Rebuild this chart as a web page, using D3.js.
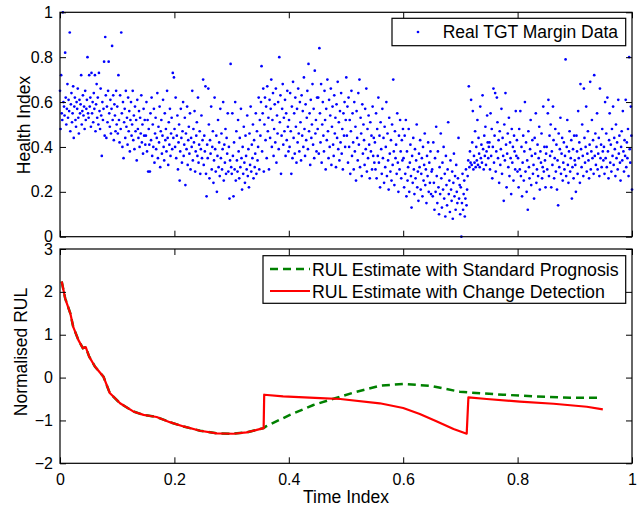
<!DOCTYPE html>
<html>
<head>
<meta charset="utf-8">
<script src="https://d3js.org/d3.v7.min.js"></script>
<style>
  body { margin: 0; background: #fff; }
  svg { display: block; font-family: "Liberation Sans", Arial, Helvetica, sans-serif; }
</style>
</head>
<body>
<svg id="chart" width="640" height="506"></svg>
<script>
// Health index samples (evenly spaced over time index 0..1)
const healthIndex = [
  0.65,0.48,0.72,0.55,0.52,1.00,0.60,0.58,0.54,0.82,0.62,0.50,0.57,0.68,0.53,0.61,0.56,0.91,0.47,0.59,0.64,0.51,0.55,0.67,0.44,0.58,0.62,0.52,0.49,0.60,0.57,0.66,0.53,0.46,0.61,0.55,0.59,0.72,0.50,0.56,0.63,0.54,0.58,0.48,0.65,0.52,0.57,0.61,0.80,0.55,
  0.53,0.72,0.58,0.62,0.49,0.73,0.55,0.60,0.51,0.64,0.57,0.72,0.47,0.59,0.68,0.53,0.62,0.50,0.73,0.56,0.48,0.66,0.54,0.36,0.60,0.52,0.57,0.78,0.45,0.89,0.63,0.44,0.58,0.51,0.65,0.78,0.55,0.49,0.61,0.46,0.57,0.85,0.52,0.63,0.43,0.59,0.54,0.47,0.65,0.50,
  0.58,0.46,0.72,0.52,0.42,0.63,0.48,0.91,0.55,0.40,0.60,0.35,0.51,0.57,0.44,0.65,0.49,0.53,0.41,0.62,0.47,0.56,0.38,0.52,0.60,0.45,0.50,0.65,0.43,0.54,0.39,0.58,0.47,0.52,0.34,0.61,0.48,0.44,0.56,0.40,0.53,0.46,0.63,0.42,0.50,0.37,0.57,0.45,0.52,0.41,
  0.45,0.60,0.38,0.52,0.29,0.48,0.41,0.29,0.55,0.43,0.62,0.36,0.50,0.40,0.57,0.33,0.46,0.53,0.39,0.44,0.64,0.35,0.49,0.42,0.58,0.31,0.47,0.52,0.37,0.45,0.61,0.40,0.34,0.55,0.43,0.48,0.38,0.65,0.44,0.32,0.51,0.41,0.57,0.36,0.46,0.53,0.39,0.73,0.44,0.71,
  0.48,0.40,0.62,0.35,0.45,0.54,0.30,0.42,0.50,0.25,0.38,0.57,0.44,0.33,0.47,0.60,0.36,0.41,0.53,0.23,0.46,0.39,0.58,0.32,0.43,0.49,0.37,0.55,0.30,0.44,0.40,0.65,0.34,0.48,0.42,0.56,0.29,0.38,0.45,0.51,0.36,0.62,0.33,0.41,0.47,0.28,0.39,0.54,0.35,0.43,
  0.70,0.32,0.45,0.38,0.67,0.28,0.18,0.41,0.35,0.66,0.50,0.26,0.43,0.37,0.58,0.30,0.40,0.47,0.24,0.34,0.62,0.39,0.29,0.45,0.20,0.36,0.52,0.31,0.42,0.27,0.57,0.35,0.46,0.30,0.39,0.60,0.25,0.41,0.33,0.48,0.28,0.44,0.37,0.55,0.29,0.40,0.17,0.34,0.77,0.31,
  0.28,0.55,0.36,0.18,0.42,0.30,0.60,0.25,0.47,0.34,0.29,0.52,0.38,0.26,0.44,0.31,0.57,0.35,0.21,0.40,0.28,0.49,0.33,0.24,0.45,0.36,0.30,0.54,0.27,0.39,0.22,0.46,0.32,0.58,0.29,0.41,0.35,0.50,0.26,0.43,0.31,0.37,0.55,0.28,0.47,0.34,0.40,0.62,0.30,0.52,
  0.45,0.60,0.76,0.38,0.55,0.66,0.29,0.50,0.62,0.43,0.58,0.35,0.67,0.47,0.53,0.30,0.61,0.44,0.57,0.70,0.40,0.52,0.64,0.36,0.48,0.59,0.42,0.66,0.33,0.54,0.46,0.60,0.39,0.80,0.51,0.63,0.28,0.45,0.57,0.68,0.41,0.53,0.47,0.61,0.36,0.55,0.43,0.65,0.49,0.38,
  0.52,0.40,0.64,0.47,0.28,0.58,0.35,0.69,0.44,0.55,0.37,0.62,0.49,0.33,0.57,0.42,0.66,0.46,0.38,0.60,0.51,0.34,0.63,0.45,0.56,0.40,0.71,0.48,0.36,0.59,0.43,0.53,0.65,0.39,0.77,0.47,0.55,0.32,0.61,0.44,0.50,0.68,0.41,0.57,0.35,0.74,0.46,0.52,0.38,0.62,
  0.48,0.62,0.37,0.84,0.55,0.42,0.68,0.33,0.50,0.60,0.45,0.38,0.65,0.52,0.30,0.57,0.43,0.70,0.47,0.35,0.61,0.40,0.54,0.66,0.32,0.49,0.58,0.41,0.36,0.63,0.46,0.53,0.31,0.59,0.44,0.69,0.39,0.51,0.34,0.56,0.42,0.64,0.37,0.48,0.30,0.55,0.45,0.60,0.40,0.52,
  0.71,0.45,0.58,0.33,0.62,0.40,0.52,0.28,0.47,0.65,0.36,0.55,0.42,0.30,0.60,0.38,0.49,0.25,0.56,0.44,0.34,0.64,0.41,0.70,0.31,0.53,0.46,0.27,0.59,0.37,0.50,0.43,0.32,0.57,0.39,0.66,0.29,0.48,0.35,0.54,0.41,0.26,0.51,0.38,0.45,0.30,0.58,0.36,0.44,0.33,
  0.42,0.30,0.55,0.26,0.48,0.36,0.62,0.33,0.45,0.22,0.51,0.39,0.28,0.57,0.35,0.44,0.24,0.49,0.31,0.40,0.60,0.27,0.46,0.34,0.21,0.53,0.37,0.29,0.43,0.25,0.50,0.32,0.70,0.38,0.23,0.47,0.35,0.41,0.28,0.55,0.33,0.20,0.45,0.30,0.52,0.38,0.26,0.43,0.34,0.48,
  0.35,0.22,0.45,0.28,0.52,0.18,0.38,0.25,0.31,0.48,0.20,0.33,0.41,0.27,0.13,0.36,0.24,0.44,0.30,0.19,0.39,0.26,0.34,0.50,0.22,0.29,0.16,0.37,0.31,0.43,0.21,0.28,0.35,0.18,0.40,0.25,0.32,0.46,0.23,0.30,0.15,0.36,0.27,0.42,0.20,0.33,0.24,0.38,0.19,0.29,
  0.30,0.18,0.42,0.24,0.12,0.35,0.20,0.49,0.27,0.15,0.38,0.22,0.10,0.31,0.19,0.46,0.26,0.13,0.33,0.21,0.40,0.17,0.28,0.09,0.36,0.23,0.14,0.30,0.51,0.19,0.25,0.11,0.34,0.21,0.16,0.29,0.08,0.24,0.37,0.18,0.27,0.12,0.32,0.20,0.15,0.26,0.44,0.17,0.23,0.10,
  0.22,0.00,0.15,0.28,0.12,0.19,0.25,0.09,0.17,0.30,0.14,0.21,0.27,0.34,0.67,0.31,0.38,0.33,0.61,0.32,0.42,0.56,0.30,0.36,0.33,0.47,0.31,0.40,0.34,0.52,0.32,0.44,0.37,0.31,0.58,0.35,0.41,0.33,0.63,0.39,0.30,0.45,0.36,0.49,0.32,0.38,0.54,0.42,0.35,0.40,
  0.42,0.30,0.55,0.36,0.48,0.26,0.40,0.66,0.33,0.45,0.64,0.29,0.38,0.62,0.51,0.35,0.43,0.24,0.47,0.32,0.39,0.57,0.28,0.44,0.36,0.16,0.50,0.34,0.64,0.41,0.22,0.37,0.46,0.31,0.53,0.27,0.42,0.35,0.19,0.48,0.33,0.40,0.25,0.45,0.38,0.30,0.56,0.36,0.43,0.29,
  0.35,0.22,0.48,0.30,0.56,0.27,0.40,0.18,0.33,0.45,0.25,0.38,0.60,0.29,0.42,0.20,0.34,0.12,0.47,0.31,0.26,0.39,0.52,0.23,0.36,0.43,0.28,0.32,0.17,0.44,0.37,0.55,0.24,0.30,0.41,0.27,0.35,0.49,0.21,0.38,0.33,0.46,0.26,0.31,0.58,0.29,0.40,0.34,0.22,0.37,
  0.40,0.30,0.55,0.61,0.27,0.45,0.36,0.50,0.22,0.38,0.32,0.58,0.43,0.26,0.35,0.48,0.29,0.41,0.21,0.34,0.14,0.46,0.31,0.39,0.53,0.28,0.37,0.44,0.25,0.33,0.42,0.30,0.36,0.79,0.27,0.40,0.52,0.32,0.24,0.38,0.47,0.29,0.35,0.43,0.17,0.31,0.39,0.26,0.45,0.34,
  0.32,0.20,0.45,0.38,0.28,0.56,0.35,0.42,0.24,0.68,0.39,0.31,0.50,0.36,0.27,0.66,0.44,0.33,0.40,0.58,0.29,0.37,0.47,0.34,0.26,0.41,0.69,0.30,0.38,0.52,0.35,0.43,0.28,0.72,0.36,0.46,0.32,0.40,0.55,0.30,0.37,0.44,0.27,0.66,0.35,0.41,0.31,0.48,0.38,0.34,
  0.40,0.28,0.60,0.35,0.46,0.31,0.62,0.38,0.26,0.43,0.55,0.33,0.41,0.29,0.48,0.36,0.58,0.32,0.44,0.39,0.27,0.50,0.35,0.42,0.30,0.61,0.37,0.45,0.33,0.25,0.40,0.47,0.34,0.56,0.38,0.29,0.43,0.36,0.61,0.31,0.42,0.35,0.48,0.27,0.80,0.39,0.33,0.58,0.45,0.21
];

// RUL estimate with change detection (red)
const changeTime = [0.003,0.009,0.018,0.023,0.032,0.040,0.045,0.051,0.061,0.076,0.087,0.105,0.128,0.146,0.169,0.192,0.216,0.245,0.274,0.303,0.326,0.344,0.356,
  0.357,0.390,0.455,0.490,0.559,0.600,0.629,0.658,0.688,0.711,0.714,0.746,0.804,0.863,0.921,0.949];
const changeRul = [2.24,1.85,1.50,1.19,0.88,0.685,0.71,0.49,0.26,0.02,-0.36,-0.60,-0.79,-0.87,-0.92,-1.04,-1.14,-1.24,-1.30,-1.31,-1.28,-1.22,-1.18,
  -0.40,-0.44,-0.48,-0.50,-0.60,-0.71,-0.85,-1.02,-1.20,-1.31,-0.46,-0.50,-0.56,-0.61,-0.68,-0.74];

// RUL estimate with standard prognosis (green dashed)
const standardTime = [0.003,0.009,0.018,0.023,0.032,0.040,0.045,0.051,0.061,0.076,0.087,0.105,0.128,0.146,0.169,0.192,0.216,0.245,0.274,0.303,0.326,0.344,0.356,
  0.360,0.402,0.443,0.472,0.513,0.559,0.600,0.647,0.699,0.717,0.775,0.833,0.892,0.945];
const standardRul = [2.24,1.85,1.50,1.19,0.88,0.685,0.71,0.49,0.26,0.02,-0.36,-0.60,-0.79,-0.87,-0.92,-1.04,-1.14,-1.24,-1.30,-1.31,-1.28,-1.22,-1.18,
  -1.14,-0.87,-0.64,-0.52,-0.35,-0.19,-0.15,-0.19,-0.33,-0.35,-0.40,-0.44,-0.47,-0.47];

const xTicks = [0, 0.2, 0.4, 0.6, 0.8, 1];
const topTicks = [0, 0.2, 0.4, 0.6, 0.8, 1];
const bottomTicks = [-2, -1, 0, 1, 2, 3];

const svg = d3.select("#chart");

const x = d3.scaleLinear().domain([0, 1]).range([60, 632]);
const yTop = d3.scaleLinear().domain([0, 1]).range([236.7, 12.3]);
const yBot = d3.scaleLinear().domain([-2, 3]).range([463.3, 249]);

function drawFrame(y, yTickValues, showXLabels) {
    const [y0, y1] = y.range();
    const g = svg.append("g");

    // ticks inside on all four sides, matlab style
    const left = d3.axisLeft(y).tickValues(yTickValues).tickSizeInner(-6).tickSizeOuter(0).tickPadding(7)
        .tickFormat(d3.format("~g"));
    const right = d3.axisRight(y).tickValues(yTickValues).tickSizeInner(-6).tickSizeOuter(0).tickFormat("");
    const bottom = d3.axisBottom(x).tickValues(xTicks).tickSizeInner(-6).tickSizeOuter(0).tickPadding(10)
        .tickFormat(showXLabels ? d3.format("~g") : "");
    const top = d3.axisTop(x).tickValues(xTicks).tickSizeInner(-6).tickSizeOuter(0).tickFormat("");

    g.append("g").attr("transform", `translate(${x(0)},0)`).call(left);
    g.append("g").attr("transform", `translate(${x(1)},0)`).call(right);
    g.append("g").attr("transform", `translate(0,${y0})`).call(bottom);
    g.append("g").attr("transform", `translate(0,${y1})`).call(top);

    g.selectAll(".domain").remove();
    g.selectAll(".tick line").attr("stroke", "#000");
    g.selectAll(".tick text")
        .attr("fill", "#000")
        .style("font-size", "16px")
        .style("font-family", "'Liberation Sans', Arial, sans-serif")
        .text(function (d) { return d3.select(this).text().replace("-", "\u2212"); });

    g.append("rect")
        .attr("x", x(0))
        .attr("y", y1)
        .attr("width", x(1) - x(0))
        .attr("height", y0 - y1)
        .attr("fill", "none")
        .attr("stroke", "#000")
        .attr("stroke-width", 1.2);
}

// top panel: scatter
svg.append("g")
    .selectAll("circle")
    .data(healthIndex)
    .enter()
    .append("circle")
    .attr("cx", (d, i) => x(i / (healthIndex.length - 1)))
    .attr("cy", (d) => yTop(d))
    .attr("r", 1.35)
    .attr("fill", "#0000ff");

drawFrame(yTop, topTicks, false);

// bottom panel: RUL lines
const line = d3.line()
    .x((d) => x(d[0]))
    .y((d) => yBot(d[1]));

svg.append("path")
    .datum(d3.zip(standardTime, standardRul))
    .attr("d", line)
    .attr("fill", "none")
    .attr("stroke", "#008000")
    .attr("stroke-width", 2.5)
    .attr("stroke-dasharray", "8,5");

svg.append("path")
    .datum(d3.zip(changeTime, changeRul))
    .attr("d", line)
    .attr("fill", "none")
    .attr("stroke", "#ff0000")
    .attr("stroke-width", 2.2)
    .attr("stroke-linejoin", "round");

drawFrame(yBot, bottomTicks, true);

// axis labels
svg.append("text")
    .attr("x", 346).attr("y", 503)
    .attr("text-anchor", "middle")
    .style("font-size", "17.5px")
    .text("Time Index");

svg.append("text")
    .attr("transform", "translate(30,125) rotate(-90)")
    .attr("text-anchor", "middle")
    .style("font-size", "17.5px")
    .text("Health Index");

svg.append("text")
    .attr("transform", "translate(27,352) rotate(-90)")
    .attr("text-anchor", "middle")
    .style("font-size", "17.5px")
    .text("Normalised RUL");

// legends
const legTop = svg.append("g");
legTop.append("rect")
    .attr("x", 392).attr("y", 18.3).attr("width", 233.7).attr("height", 27.4)
    .attr("fill", "#fff").attr("stroke", "#000").attr("stroke-width", 1.2);
legTop.append("circle").attr("cx", 418).attr("cy", 32).attr("r", 1.35).attr("fill", "#0000ff");
legTop.append("text").attr("x", 442.7).attr("y", 38.3).style("font-size", "17.5px").text("Real TGT Margin Data");

const legBot = svg.append("g");
legBot.append("rect")
    .attr("x", 263).attr("y", 255.7).attr("width", 362.7).attr("height", 47.6)
    .attr("fill", "#fff").attr("stroke", "#000").attr("stroke-width", 1.2);
legBot.append("line")
    .attr("x1", 270).attr("x2", 310).attr("y1", 269).attr("y2", 269)
    .attr("stroke", "#008000").attr("stroke-width", 2.5).attr("stroke-dasharray", "8,5");
legBot.append("line")
    .attr("x1", 270).attr("x2", 310).attr("y1", 291).attr("y2", 291)
    .attr("stroke", "#ff0000").attr("stroke-width", 2.2);
legBot.append("text").attr("x", 312).attr("y", 275.7).style("font-size", "17.8px").text("RUL Estimate with Standard Prognosis");
legBot.append("text").attr("x", 312).attr("y", 298.3).style("font-size", "17.8px").text("RUL Estimate with Change Detection");
</script>
</body>
</html>
